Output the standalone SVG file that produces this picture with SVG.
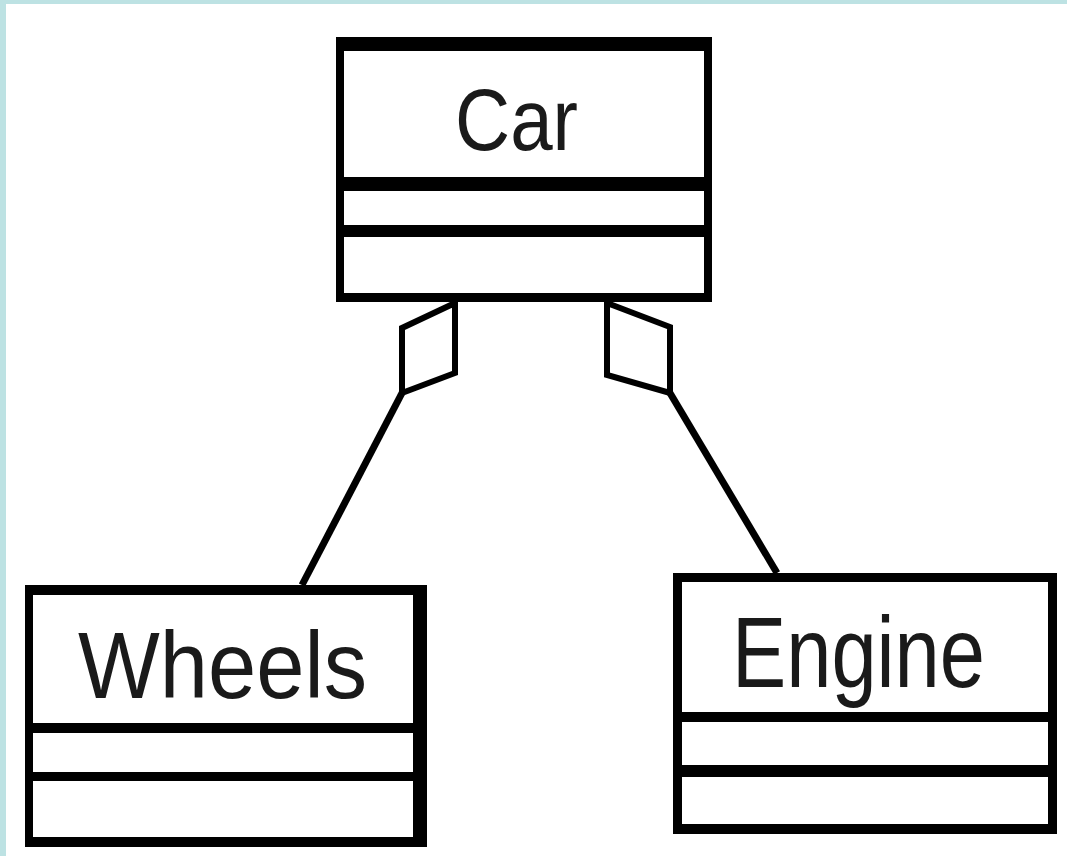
<svg xmlns="http://www.w3.org/2000/svg" width="1067" height="856" viewBox="0 0 1067 856">
  <style>
    .frame { fill: #000000; }
    .comp { fill: #ffffff; }
    .label { font-family: "Liberation Sans", Arial, sans-serif; fill: #1a1a1a; text-anchor: start; }
    .edge { fill: none; stroke: #000000; stroke-width: 7; stroke-linecap: butt; }
    .diamond { fill: #ffffff; stroke: #000000; stroke-width: 6; stroke-linejoin: miter; }
  </style>
  <rect x="0" y="0" width="1067" height="856" fill="#ffffff"/>
  <rect x="0" y="0" width="1067" height="4" fill="#bde2e3"/>
  <rect x="0" y="0" width="6" height="856" fill="#bde2e3"/>

  <g id="connectors">
    <line class="edge" x1="402" y1="393" x2="302" y2="585"/>
    <polygon class="diamond" points="455,303 402,328 402,393 455,373"/>
    <line class="edge" x1="670" y1="393" x2="777" y2="573"/>
    <polygon class="diamond" points="607,303 670,327 670,393 607,375"/>
  </g>

  <g id="car">
    <rect class="frame" x="336" y="37" width="376" height="265"/>
    <rect class="comp" x="344" y="51" width="360" height="126"/>
    <rect class="comp" x="344" y="191" width="360" height="34"/>
    <rect class="comp" x="344" y="237" width="360" height="56"/>
    <text class="label" x="455" y="150" font-size="88" textLength="123" lengthAdjust="spacingAndGlyphs">Car</text>
  </g>

  <g id="wheels">
    <rect class="frame" x="25" y="585" width="402" height="262"/>
    <rect class="comp" x="33" y="595" width="380" height="128"/>
    <rect class="comp" x="33" y="733" width="380" height="39"/>
    <rect class="comp" x="33" y="781" width="380" height="56"/>
    <text class="label" x="78" y="698" font-size="95" textLength="289" lengthAdjust="spacingAndGlyphs">Wheels</text>
  </g>

  <g id="engine">
    <rect class="frame" x="673" y="573" width="384" height="261"/>
    <rect class="comp" x="682" y="582" width="366" height="130"/>
    <rect class="comp" x="682" y="722" width="366" height="43"/>
    <rect class="comp" x="682" y="777" width="366" height="47"/>
    <text class="label" x="732" y="687" font-size="100" textLength="253" lengthAdjust="spacingAndGlyphs">Engine</text>
  </g>
</svg>
